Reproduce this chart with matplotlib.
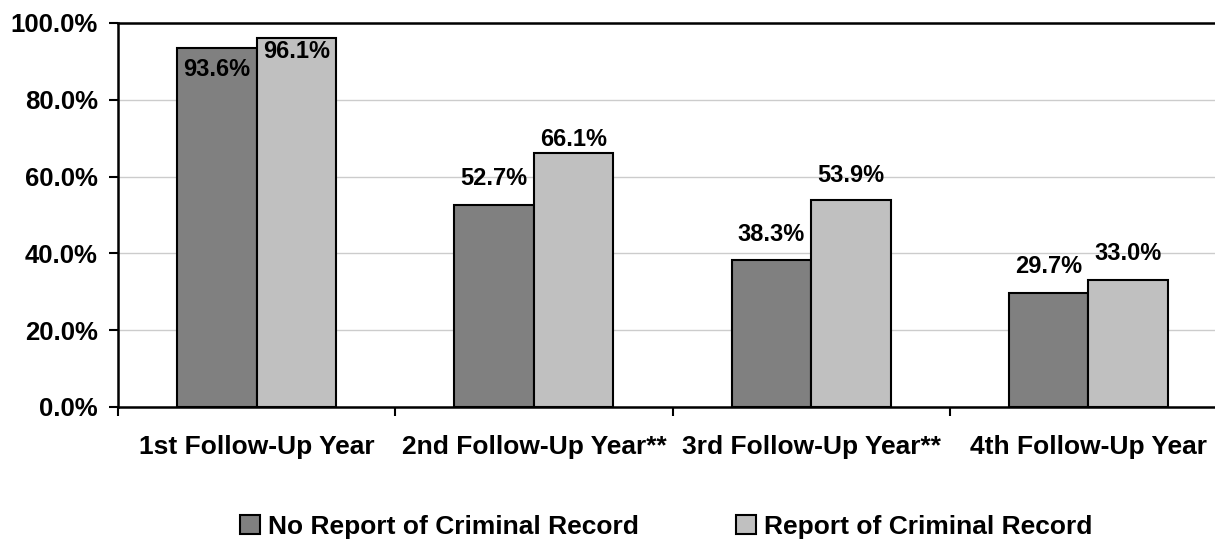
import matplotlib
matplotlib.use('Agg')
import matplotlib.pyplot as plt
import numpy as np
from matplotlib.patches import Patch

categories = ['1st Follow-Up Year', '2nd Follow-Up Year**', '3rd Follow-Up Year**', '4th Follow-Up Year']
no_record = [93.6, 52.7, 38.3, 29.7]
with_record = [96.1, 66.1, 53.9, 33.0]
series_names = ['No Report of Criminal Record', 'Report of Criminal Record']

# label center offset from bar top, in points (negative = inside bar)
no_offsets = [-16, 19, 18, 19]
with_offsets = [-10, 9.5, 18, 19]

plt.rcParams['font.family'] = ['Liberation Sans', 'DejaVu Sans']
plt.rcParams['font.weight'] = 'bold'

fig = plt.figure(figsize=(12.15, 5.4), dpi=100)
ax = fig.add_axes([118/1215, 1 - 407/540, 1109/1215, 384/540])

x = np.arange(len(categories))
bw = 0.287
dark = '#808080'
light = '#c0c0c0'

b1 = ax.bar(x - bw/2, no_record, bw, color=dark, edgecolor='black', linewidth=1.5, zorder=3)
b2 = ax.bar(x + bw/2, with_record, bw, color=light, edgecolor='black', linewidth=1.5, zorder=3)

for bars, vals, offs in [(b1, no_record, no_offsets), (b2, with_record, with_offsets)]:
    for r, v, o in zip(bars, vals, offs):
        ax.annotate('%.1f%%' % v, (r.get_x() + r.get_width()/2, v),
                    xytext=(0, o), textcoords='offset points',
                    ha='center', va='center', fontsize=17, fontweight='bold', zorder=4)

ax.set_xlim(-0.5, 3.5)
ax.set_ylim(0, 100)
ax.set_yticks([0, 20, 40, 60, 80, 100])
ax.set_yticklabels(['%.1f%%' % t for t in [0, 20, 40, 60, 80, 100]])
ax.yaxis.grid(True, color='#cccccc', linewidth=1, zorder=0)
ax.set_axisbelow(True)

ax.set_xticks(x)
ax.set_xticklabels(categories)
ax.set_xticks(np.arange(-0.5, 4.0, 1.0), minor=True)
ax.tick_params(axis='x', which='major', length=0, pad=20, labelsize=19)
ax.tick_params(axis='x', which='minor', length=6.5, width=1.5, direction='out')
ax.tick_params(axis='y', length=6.5, width=1.5, pad=8, labelsize=18.5)

for s in ['left', 'bottom', 'top']:
    ax.spines[s].set_linewidth(1.8)
ax.spines['right'].set_visible(False)

handles = [Patch(facecolor=dark, edgecolor='black', linewidth=1.5),
           Patch(facecolor=light, edgecolor='black', linewidth=1.5)]
fig.legend(handles, series_names, loc='center', bbox_to_anchor=(666/1215, 13/540),
           ncol=2, frameon=False, prop={'size': 19, 'weight': 'bold'},
           handlelength=0.75, handleheight=0.75, handletextpad=0.3, columnspacing=3.7)

fig.savefig('out.png', dpi=100)
